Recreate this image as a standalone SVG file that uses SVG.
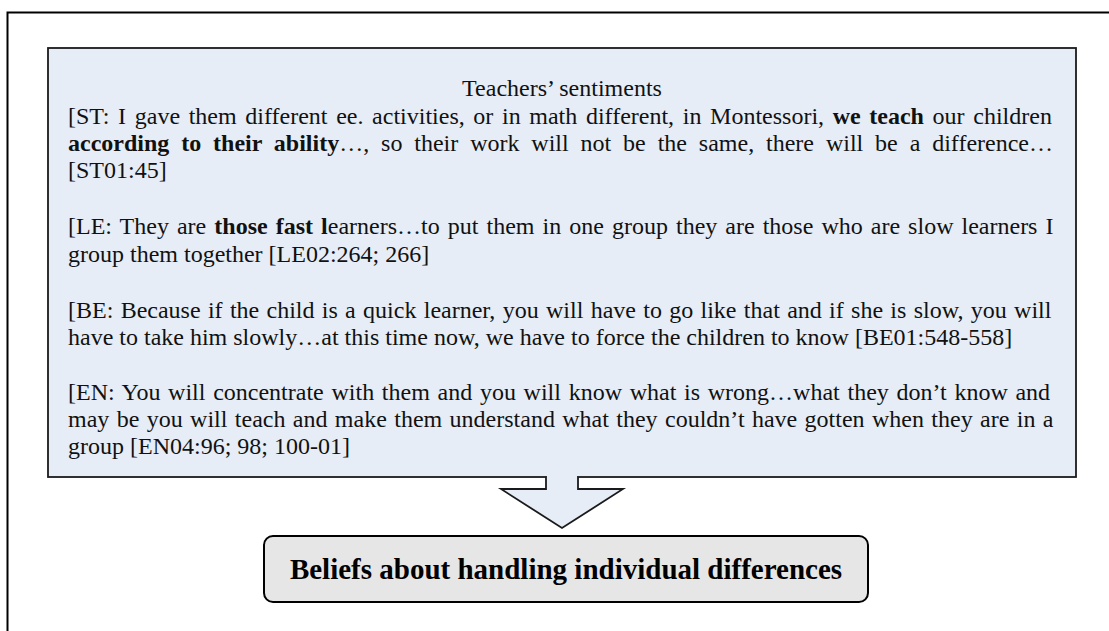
<svg xmlns="http://www.w3.org/2000/svg" width="1109" height="631" viewBox="0 0 1109 631">
  <style>
    .t { font-family: "Liberation Serif", "Times New Roman", serif; font-size: 24px; fill: #111; }
    .b { font-weight: bold; }
    .box { fill: #e6edf7; stroke: #1a1a1a; stroke-width: 1.8; }
    .res { fill: #e6e6e6; stroke: #000; stroke-width: 2; }
    .res-t { font-family: "Liberation Serif", "Times New Roman", serif; font-size: 29px; font-weight: bold; fill: #000; }
  </style>
  <rect width="1109" height="631" fill="#fff"/>
  <path d="M7.5,631 V12.5 H1109" fill="none" stroke="#000" stroke-width="2"/>

  <g id="sentiments">
    <rect class="box" x="48" y="48" width="1028" height="429"/>
    <text class="t" x="562" y="96" text-anchor="middle">Teachers’ sentiments</text>
    <text class="t" x="68" y="124" word-spacing="2.64">[ST: I gave them different ee. activities, or in math different, in Montessori, <tspan class="b">we teach</tspan> our children</text>
    <text class="t" x="68" y="151" word-spacing="5.88"><tspan class="b">according to their ability</tspan>…, so their work will not be the same, there will be a difference…</text>
    <text class="t" x="68" y="178">[ST01:45]</text>
    <text class="t" x="68" y="234" word-spacing="2.05">[LE: They are <tspan class="b">those fast l</tspan>earners…to put them in one group they are those who are slow learners I</text>
    <text class="t" x="68" y="262">group them together [LE02:264; 266]</text>
    <text class="t" x="68" y="318" word-spacing="1.31">[BE: Because if the child is a quick learner, you will have to go like that and if she is slow, you will</text>
    <text class="t" x="68" y="345">have to take him slowly…at this time now, we have to force the children to know [BE01:548-558]</text>
    <text class="t" x="68" y="400" word-spacing="1.71">[EN: You will concentrate with them and you will know what is wrong…what they don’t know and</text>
    <text class="t" x="68" y="427" word-spacing="1.38">may be you will teach and make them understand what they couldn’t have gotten when they are in a</text>
    <text class="t" x="68" y="454">group [EN04:96; 98; 100-01]</text>
  </g>

  <g id="connectors">
    <path d="M546,477 V489 H501 L562,528 L623,489 H578 V477" fill="#e6edf7" stroke="#1a1a1a" stroke-width="1.8"/>
    <rect x="547" y="475" width="30" height="4" fill="#e6edf7"/>
  </g>

  <g id="beliefs">
    <rect class="res" x="264" y="536" width="604" height="66" rx="9"/>
    <text class="res-t" x="566" y="579" text-anchor="middle">Beliefs about handling individual differences</text>
  </g>
</svg>
